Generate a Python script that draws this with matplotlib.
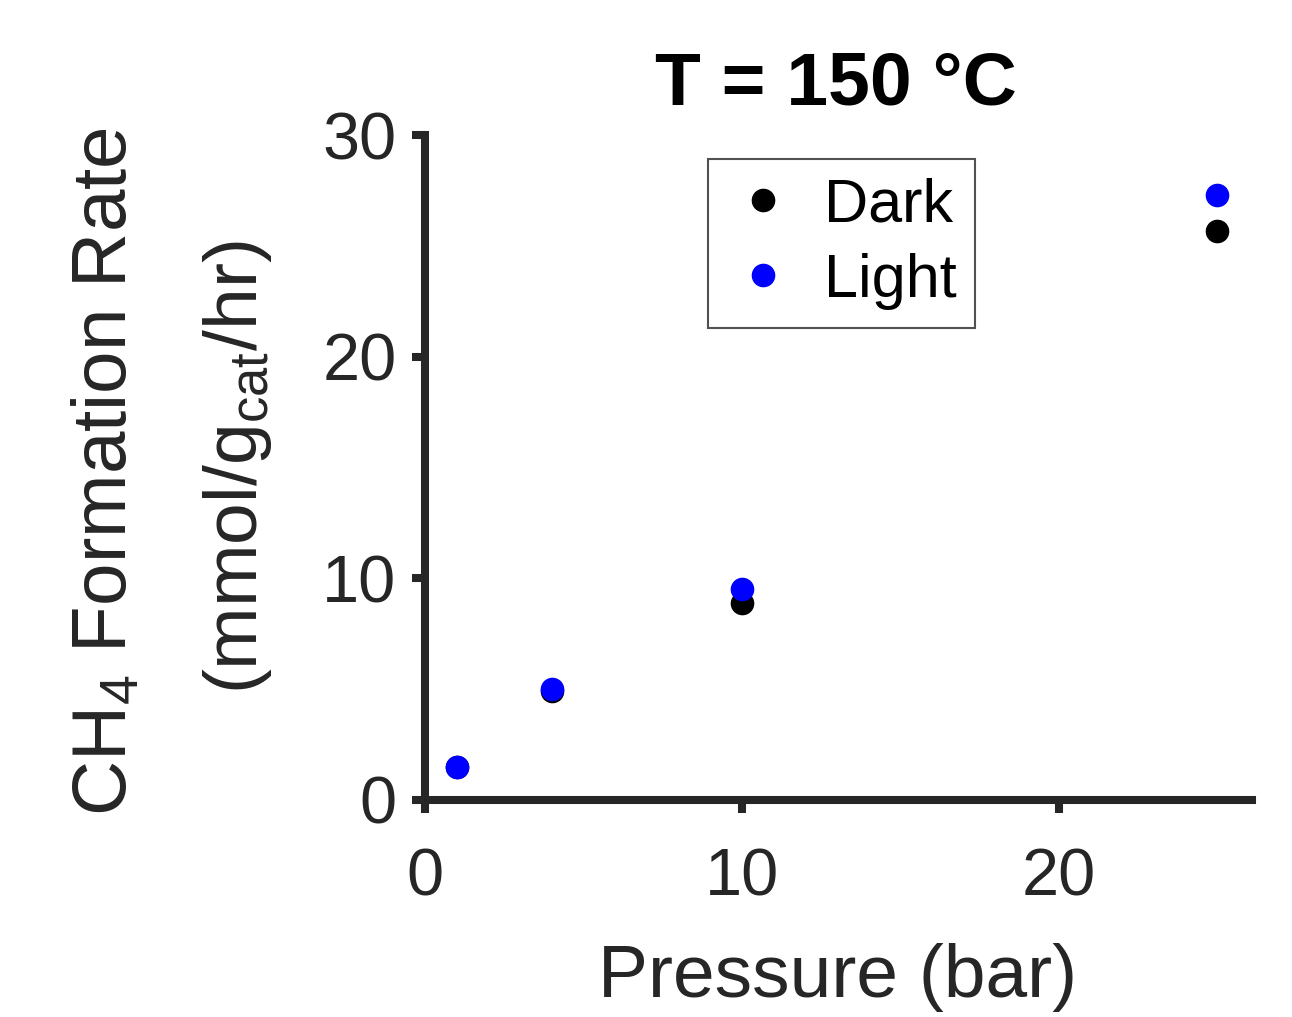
import numpy as np
import matplotlib.pyplot as plt

plt.rcParams['font.family'] = ['Liberation Sans', 'DejaVu Sans']
plt.rcParams['mathtext.fontset'] = 'custom'
plt.rcParams['mathtext.rm'] = 'Liberation Sans'
plt.rcParams['mathtext.it'] = 'Liberation Sans'

# Data
pressure = [1, 4, 10, 25]
dark = [1.5, 4.9, 8.9, 25.7]
light = [1.5, 5.0, 9.5, 27.3]

axis_color = '#262626'

fig = plt.figure(figsize=(12.92, 10.17), dpi=100)
ax = fig.add_axes([0.329, 0.2134, 0.64, 0.6536])

ax.plot(pressure, dark, 'o', color='black', markersize=16, label='Dark')
ax.plot(pressure, light, 'o', color='blue', markersize=16, label='Light')

ax.set_xlim(0, 26.1)
ax.set_ylim(0, 30)
ax.set_xticks([0, 10, 20])
ax.set_yticks([0, 10, 20, 30])

for side in ['top', 'right']:
    ax.spines[side].set_visible(False)
for side in ['left', 'bottom']:
    ax.spines[side].set_linewidth(5.8)
    ax.spines[side].set_color(axis_color)
ax.tick_params(direction='out', length=9.5, width=5.8, color=axis_color,
               labelcolor=axis_color, labelsize=48)
ax.tick_params(axis='x', pad=25)
ax.tick_params(axis='y', pad=11)

# title and axis labels placed at their baselines
fig.text(0.647, 0.8968, 'T = 150 °C', fontsize=54, fontweight='bold',
         ha='center', va='baseline')
fig.text(0.6486, 0.0197, 'Pressure (bar)', fontsize=54, color=axis_color,
         ha='center', va='baseline')
fig.text(0.0975, 0.536, 'CH$_4$ Formation Rate', rotation=90, fontsize=55,
         color=axis_color, ha='center', va='baseline', rotation_mode='anchor')
fig.text(0.199, 0.541, '(mmol/g$_{cat}$/hr)', rotation=90, fontsize=54,
         color=axis_color, ha='center', va='baseline', rotation_mode='anchor')

leg = ax.legend(loc='upper left', bbox_to_anchor=(0.548, 0.8437),
                bbox_transform=fig.transFigure, fontsize=44,
                frameon=True, fancybox=False, handletextpad=0.4,
                borderpad=0.3, labelspacing=0.3, handlelength=1.2,
                borderaxespad=0, markerscale=1.0)
leg.get_frame().set_edgecolor(axis_color)
leg.get_frame().set_linewidth(1.5)

fig.savefig('out.png', dpi=100)
